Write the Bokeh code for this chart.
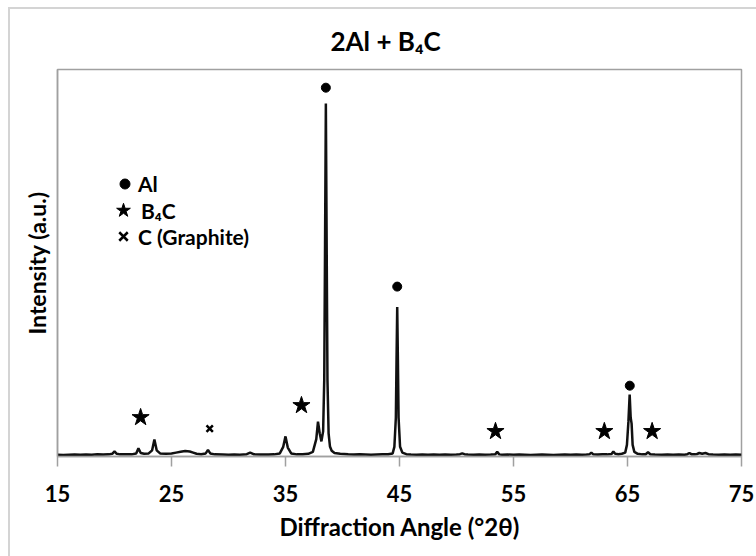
from bokeh.plotting import figure
from bokeh.models import Range1d, FixedTicker, Legend, LegendItem
from bokeh.embed import file_html
from bokeh.resources import INLINE

# XRD pattern of the 2Al + B4C powder mixture (2-theta in degrees, arbitrary intensity)
angle = [
    15.0, 15.5, 16.0, 16.5, 17.0, 17.5, 18.0, 18.5, 19.0, 19.5, 19.8, 20.0, 20.2,
    20.5, 21.0, 21.5, 21.9, 22.1, 22.3, 22.6, 23.0, 23.3, 23.5, 23.7, 24.0, 24.5,
    25.0, 25.4, 25.8, 26.2, 26.6, 26.9, 27.2, 27.6, 28.0, 28.2, 28.4, 28.8, 29.5,
    30.0, 30.5, 31.0, 31.6, 31.9, 32.2, 32.8, 33.5, 34.0, 34.5, 34.8, 35.0, 35.2,
    35.5, 36.0, 36.5, 37.0, 37.4, 37.7, 37.85, 38.0, 38.15, 38.3, 38.4, 38.47,
    38.54, 38.61, 38.68, 38.78, 38.9, 39.05, 39.3, 39.8, 40.5, 41.0, 41.5, 42.0,
    42.5, 43.0, 43.5, 44.0, 44.4, 44.55, 44.68, 44.74, 44.8, 44.86, 44.92, 45.05,
    45.25, 45.6, 46.0, 46.5, 47.0, 47.5, 48.0, 48.5, 49.0, 49.5, 50.0, 50.3, 50.5,
    50.7, 51.0, 51.5, 52.0, 52.5, 53.0, 53.4, 53.57, 53.75, 54.0, 54.5, 55.0, 55.5,
    56.0, 56.5, 57.0, 57.5, 58.0, 58.5, 59.0, 59.5, 60.0, 60.5, 61.0, 61.4, 61.65,
    61.83, 62.0, 62.4, 62.8, 63.2, 63.6, 63.76, 63.92, 64.2, 64.5, 64.8, 64.95,
    65.08, 65.19, 65.28, 65.36, 65.45, 65.6, 65.9, 66.3, 66.6, 66.8, 67.0, 67.4,
    68.0, 68.5, 69.0, 69.5, 70.0, 70.25, 70.43, 70.6, 70.9, 71.1, 71.3, 71.55,
    71.84, 72.1, 72.5, 73.0, 73.5, 74.0, 74.5, 75.0,
]
intensity = [
    0.45, 0.40, 0.45, 0.50, 0.45, 0.50, 0.45, 0.55, 0.50, 0.55, 0.70, 1.30, 0.70,
    0.55, 0.60, 0.55, 0.80, 2.10, 0.90, 0.70, 0.80, 1.60, 4.40, 1.60, 0.80, 0.70,
    0.80, 1.00, 1.20, 1.40, 1.30, 1.00, 0.70, 0.60, 0.80, 1.70, 0.80, 0.55, 0.50,
    0.45, 0.50, 0.45, 0.60, 1.00, 0.60, 0.50, 0.50, 0.55, 0.80, 2.50, 5.20, 2.30,
    0.80, 0.55, 0.60, 0.70, 1.20, 4.50, 9.00, 6.00, 3.90, 6.50, 20.0, 55.0,
    91.2, 55.0, 20.0, 6.00, 2.60, 1.50, 0.90, 0.70, 0.55, 0.50, 0.55, 0.50,
    0.45, 0.50, 0.55, 0.60, 0.80, 2.50, 10.0, 25.0, 38.6, 25.0, 10.0, 2.50,
    1.00, 0.60, 0.50, 0.45, 0.50, 0.45, 0.50, 0.45, 0.50, 0.45, 0.50, 0.60, 0.80,
    0.60, 0.50, 0.45, 0.50, 0.45, 0.50, 0.55, 1.20, 0.55, 0.45, 0.50, 0.45, 0.50,
    0.45, 0.40, 0.45, 0.50, 0.45, 0.40, 0.45, 0.50, 0.45, 0.50, 0.45, 0.50, 0.55,
    1.00, 0.55, 0.50, 0.60, 0.55, 0.65, 1.30, 0.70, 0.60, 0.70, 1.00, 3.00,
    9.00, 16.0, 10.0, 8.50, 3.00, 1.20, 0.70, 0.55, 0.60, 1.10, 0.60, 0.50,
    0.45, 0.50, 0.45, 0.50, 0.45, 0.60, 0.90, 0.60, 0.55, 0.65, 0.90, 0.70,
    0.90, 0.60, 0.50, 0.45, 0.50, 0.45, 0.50, 0.45,
]

# phase identification markers placed above the reflections
al_angle = [38.54, 44.8, 65.2]
al_height = [95.3, 43.9, 18.3]
b4c_angle = [22.29, 36.4, 53.42, 62.97, 67.16]
b4c_height = [10.1, 13.2, 6.5, 6.5, 6.5]
graphite_angle = [28.35]
graphite_height = [7.2]

x_ticks = [15, 25, 35, 45, 55, 65, 75]

FONT = "Lato"
GREY = "#a0a0a0"
FRAME_GREY = "#d4d4d4"

p = figure(
    width=756, height=556,
    x_range=Range1d(15, 75), y_range=Range1d(0, 100),
    output_backend="svg", toolbar_location=None,
    min_border_left=57, min_border_right=15, min_border_top=69, min_border_bottom=100,
    title="2Al + B\u2084C",
)
p.background_fill_color = "white"
p.border_fill_color = None
# chart-area border drawn behind the transparent canvas margins
p.styles = {
    "background-color": "white",
    "background-image": (
        f"linear-gradient({FRAME_GREY}, {FRAME_GREY}), "
        f"linear-gradient({FRAME_GREY}, {FRAME_GREY})"
    ),
    "background-size": "2px 560px, 760px 2px",
    "background-position": "8px 7px, 8px 7px",
    "background-repeat": "no-repeat",
}
p.grid.visible = False
p.outline_line_color = GREY
p.outline_line_width = 1.5

p.title.align = "left"
p.title.offset = 273
p.title.standoff = 26
p.title.text_font = FONT
p.title.text_font_style = "bold"
p.title.text_font_size = "26px"
p.title.text_color = "black"

xa = p.xaxis[0]
xa.ticker = FixedTicker(ticks=x_ticks)
xa.minor_tick_line_color = None
xa.major_tick_in = 0
xa.major_tick_out = 10
xa.major_tick_line_color = GREY
xa.major_tick_line_width = 1.5
xa.axis_line_color = GREY
xa.axis_line_width = 1.5
xa.major_label_text_font = FONT
xa.major_label_text_font_style = "bold"
xa.major_label_text_font_size = "22px"
xa.major_label_text_color = "black"
xa.major_label_standoff = 18
xa.axis_label = "Diffraction Angle (\u00b02\u03b8)"
xa.axis_label_text_font = FONT
xa.axis_label_text_font_style = "bold"
xa.axis_label_text_font_size = "24px"
xa.axis_label_text_color = "black"
xa.axis_label_standoff = 7

ya = p.yaxis[0]
ya.ticker = FixedTicker(ticks=[])
ya.major_tick_line_color = None
ya.minor_tick_line_color = None
ya.axis_line_color = GREY
ya.axis_line_width = 1.5
ya.axis_label = "Intensity (a.u.)"
ya.axis_label_text_font = FONT
ya.axis_label_text_font_style = "bold"
ya.axis_label_text_font_size = "23px"
ya.axis_label_text_color = "black"
ya.axis_label_standoff = 7

p.line(angle, intensity, line_color="#111111", line_width=2.5)

r_al = p.scatter(al_angle, al_height, marker="circle", size=9,
                 fill_color="black", line_color="black")
r_b4c = p.scatter(b4c_angle, b4c_height, marker="star", size=18,
                  fill_color="black", line_color="black")
r_c = p.scatter(graphite_angle, graphite_height, marker="x", size=9,
                line_color="black", line_width=2.5)


def key(label, renderer, glyph, standoff, loc):
    lg = Legend(
        items=[LegendItem(label=label, renderers=[renderer])],
        location=loc, orientation="vertical",
        glyph_width=glyph, glyph_height=glyph, label_height=glyph,
        label_standoff=standoff, margin=0, padding=0, spacing=0,
        border_line_color=None, background_fill_alpha=0,
        label_text_font=FONT, label_text_font_style="bold",
        label_text_font_size="21px", label_text_color="black",
    )
    p.add_layout(lg)


key("Al", r_al, 25, 1, (55, 260))
key("B\u2084C", r_b4c, 36, -4, (48, 228))
key("C (Graphite)", r_c, 30, -3, (51, 205))

open("out.html", "w").write(file_html(p, INLINE))
